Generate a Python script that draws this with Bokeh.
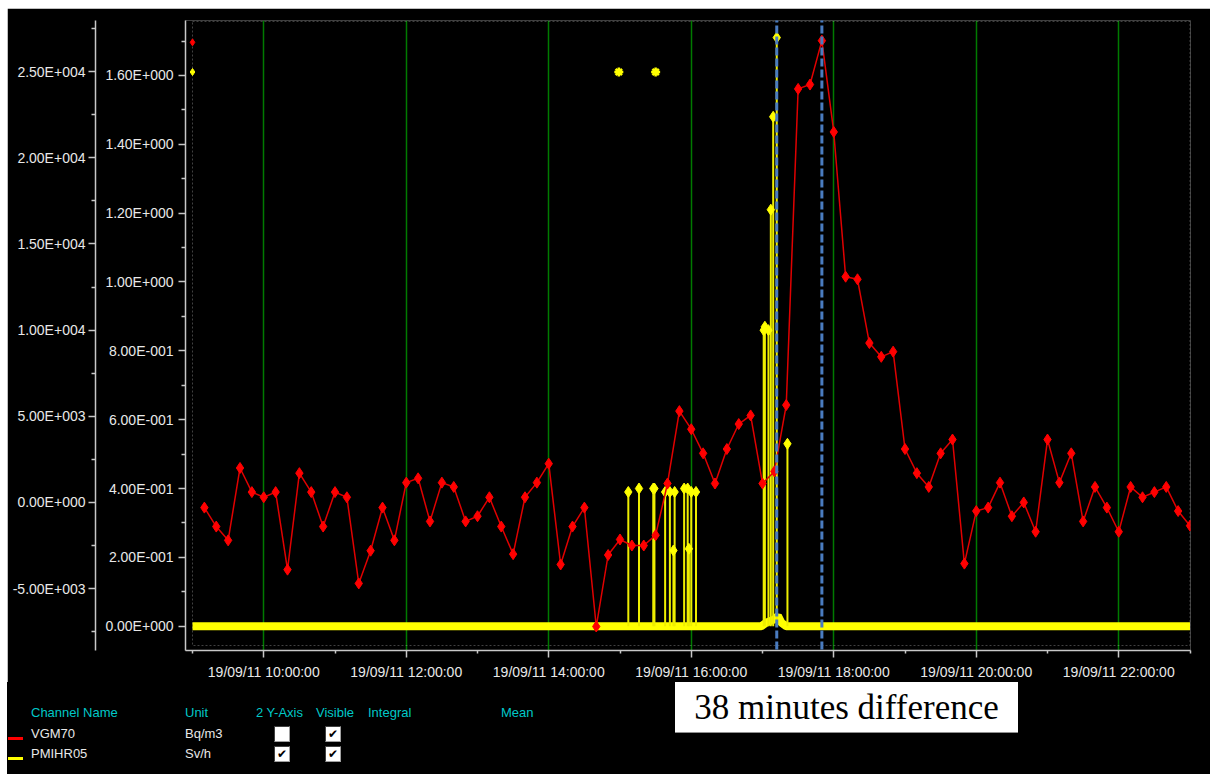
import pandas as pd
from bokeh.plotting import figure
from bokeh.models import (Range1d, LinearAxis, FixedTicker, CustomJSTickFormatter,
                          DatetimeTickFormatter, Arrow, BoxAnnotation, Spacer, Div)
from bokeh.layouts import column, row
from bokeh.embed import file_html
from bokeh.resources import INLINE

# ---------------- data ----------------
DAY = "2011-09-19"

red_name, red_unit = "VGM70", "Bq/m3"
yel_name, yel_unit = "PMIHR05", "Sv/h"

# VGM70, one reading every 10 minutes from 09:10 to 23:00 (Bq/m3)
red_first, red_step_min = "09:10", 10
red_values = [
    -300, -1400, -2200, 2000, 600, 300, 600, -3900, 1700, 600, -1400, 600,
    300, -4700, -2800, -300, -2200, 1150, 1400, -1100, 1150, 900, -1100, -800,
    300, -1400, -3000, 300, 1150, 2250, -3600, -1400, -300, -7200, -3050, -2150,
    -2500, -2500, -1900, 1100, 5300, 4250, 2850, 1100, 3100, 4550, 5050, 1100,
    1800, 5650, 24000, 24250, 26800, 21500, 13100, 12950, 9250, 8450, 8750, 3100,
    1700, 900, 2850, 3650, -3550, -500, -300, 1150, -800, 0, -1700, 3650,
    1150, 2850, -1100, 900, -300, -1700, 900, 300, 600, 900, -500, -1350,
]

# PMIHR05 (Sv/h): baseline readings and spikes
yel_base_times = ["09:00", "16:59", "17:03", "17:10", "17:13", "17:16", "17:20", "23:00"]
yel_base_values = [0.0, 0.0, 0.01, 0.02, 0.03, 0.01, 0.0, 0.0]
yel_spike_times = ["15:07", "15:16", "15:28", "15:29", "15:38", "15:42", "15:45", "15:46",
                   "15:54", "15:57", "15:58", "16:00", "16:04",
                   "17:01", "17:02", "17:05", "17:07", "17:09", "17:12", "17:21"]
yel_spike_values = [0.39, 0.40, 0.40, 0.40, 0.39, 0.39, 0.22, 0.39,
                    0.40, 0.40, 0.225, 0.39, 0.39,
                    0.86, 0.87, 0.86, 1.21, 1.48, 1.71, 0.53]
yel_flag_times = ["14:59", "15:30"]
yel_flag_values = [1.61, 1.61]
edge_time = "09:00"
red_edge_value = 26700
yel_edge_value = 1.61

peak_times = ["17:12", "17:50"]          # dashed markers, 38 minutes apart
annotation_text = "38 minutes difference"

x_major = ["10:00", "12:00", "14:00", "16:00", "18:00", "20:00", "22:00"]
x_minor = ["09:00", "11:00", "13:00", "15:00", "17:00", "19:00", "21:00", "23:00"]
sv_major = [0.0, 0.2, 0.4, 0.6, 0.8, 1.0, 1.2, 1.4, 1.6]
sv_minor = [0.1, 0.3, 0.5, 0.7, 0.9, 1.1, 1.3, 1.5, 1.7]
bq_major = [-5000, 0, 5000, 10000, 15000, 20000, 25000]
bq_minor = [-7500, -2500, 2500, 7500, 12500, 17500, 22500, 27500]

table_headers = ["Channel Name", "Unit", "2 Y-Axis", "Visible", "Integral", "Mean"]
table_names = [red_name, yel_name]
table_units = [red_unit, yel_unit]
table_colors = ["#FF0000", "#FFFF00"]
table_two_axis = [False, True]
table_visible = [True, True]

# ---------------- helpers ----------------
def ts(hm):
    return pd.Timestamp(f"{DAY} {hm}")

def ms(hm):
    return ts(hm).value // 10**6

red_times = [ts(red_first) + pd.Timedelta(minutes=red_step_min * i) for i in range(len(red_values))]

FRAME_H = 631
x_start = ts("09:00") - pd.Timedelta(minutes=5.9)
x_end = ts("23:00") + pd.Timedelta(seconds=25)
sv_lo, sv_hi = -0.0705, 1.7596
bq_lo, bq_hi = -8592, 27968
px_per_sv = FRAME_H / (sv_hi - sv_lo)

BG = "black"
p = figure(width=1203, height=674, x_axis_type="datetime",
           x_range=Range1d(x_start, x_end), y_range=Range1d(sv_lo, sv_hi),
           output_backend="svg", toolbar_location=None,
           min_border_left=178, min_border_right=20, min_border_top=12, min_border_bottom=31,
           background_fill_color=BG, border_fill_color=BG, outline_line_color=None)
p.extra_y_ranges = {"bq": Range1d(bq_lo, bq_hi)}

sci = CustomJSTickFormatter(code="""
const v = tick;
if (Math.abs(v) < 1e-12) return "0.00E+000";
let e = Math.floor(Math.log10(Math.abs(v)));
let m = (v / Math.pow(10, e)).toFixed(2);
if (Math.abs(parseFloat(m)) >= 10) { e += 1; m = (v / Math.pow(10, e)).toFixed(2); }
return m + "E" + (e < 0 ? "-" : "+") + String(Math.abs(e)).padStart(3, "0");
""")

AX = "#C8C8C8"
def style_axis(ax, minor_out=4, standoff=5):
    ax.axis_line_color = AX
    ax.axis_line_width = 1.5
    ax.major_tick_line_color = AX
    ax.minor_tick_line_color = AX
    ax.major_tick_line_width = 1.5
    ax.minor_tick_line_width = 1.5
    ax.major_tick_out = 7
    ax.major_tick_in = 0
    ax.minor_tick_out = minor_out
    ax.minor_tick_in = 0
    ax.major_label_text_color = "#E8E8E8"
    ax.major_label_text_font = "Liberation Sans"
    ax.major_label_text_font_size = "14px"
    ax.major_label_standoff = standoff

# inner axis: Sv/h
inner = p.yaxis[0]
inner.ticker = FixedTicker(ticks=sv_major, minor_ticks=sv_minor)
inner.formatter = sci
style_axis(inner)

# blank spacer axis between the two y axes (one invisible tick, no label)
gap = LinearAxis(ticker=FixedTicker(ticks=[sv_major[0]], minor_ticks=[]),
                 formatter=CustomJSTickFormatter(code="return ''"),
                 axis_line_color=None, major_tick_line_color=None, minor_tick_line_color=None,
                 major_tick_out=7, major_tick_in=0, minor_tick_out=0, minor_tick_in=0,
                 major_label_standoff=0)
p.add_layout(gap, "left")

# outer axis: Bq/m3
outer = LinearAxis(y_range_name="bq", ticker=FixedTicker(ticks=bq_major, minor_ticks=bq_minor),
                   formatter=sci)
style_axis(outer, standoff=3)
p.add_layout(outer, "left")

# x axis
xa = p.xaxis[0]
xa.ticker = FixedTicker(ticks=[ms(t) for t in x_major], minor_ticks=[ms(t) for t in x_minor])
fmt = "%d/%m/%y %H:%M:%S"
xa.formatter = DatetimeTickFormatter(hours=fmt, hourmin=fmt, minutes=fmt, minsec=fmt,
                                     seconds=fmt, days=fmt, months=fmt, years=fmt)
style_axis(xa, minor_out=3, standoff=6)

p.xgrid.grid_line_color = "#007A00"
p.xgrid.grid_line_width = 1.5
p.ygrid.visible = False

# dotted plot border
p.add_layout(BoxAnnotation(left=ms("09:00"), right=ms("23:00"),
                           bottom=sv_lo + 5 / px_per_sv, top=sv_hi - 1 / px_per_sv,
                           fill_color=None, line_color="#D8D8D8", line_width=1,
                           line_dash="2 2", level="underlay"))

YEL = "#FFFF00"
# yellow series
p.line([ts(t) for t in yel_base_times], yel_base_values, line_color=YEL, line_width=8)
p.segment(x0=[ts(t) for t in yel_spike_times], y0=0, x1=[ts(t) for t in yel_spike_times],
          y1=yel_spike_values, line_color="#EEEE00", line_width=2)
p.scatter([ts(t) for t in yel_spike_times], yel_spike_values, marker="diamond",
          size=11, color=YEL)
p.scatter([ts(t) for t in yel_flag_times], yel_flag_values, marker="asterisk",
          size=9, line_width=2.5, line_color=YEL)
p.scatter([ts(edge_time)], [yel_edge_value], marker="diamond", size=7, color=YEL)

# red series
p.line(red_times, red_values, y_range_name="bq", line_color="#E00000", line_width=1.5)
p.scatter(red_times, red_values, y_range_name="bq", marker="diamond", size=11, color="#FF0000")
p.scatter([ts(edge_time)], [red_edge_value], y_range_name="bq", marker="diamond",
          size=7, color="#FF0000")

# blue dashed markers
for t in peak_times:
    p.add_layout(Arrow(end=None, x_start=ms(t), y_start=sv_hi + 6 / px_per_sv,
                       x_end=ms(t), y_end=sv_lo - 19 / px_per_sv,
                       line_color="#4A7CC0", line_width=3, line_dash="8 3"))

# ---------------- channel table under the chart ----------------
def span(left, top, content, style):
    return (f'<span style="position:absolute;left:{left}px;top:{top}px;'
            f'white-space:nowrap;{style}">{content}</span>')

base_font = "font-family:'Liberation Sans';font-size:13px;line-height:16px;"
parts = []
head_left = [24, 178, 249, 309, 361, 494]
for hl, h in zip(head_left, table_headers):
    parts.append(span(hl, 23, h, base_font + "color:#00C8C8;"))
row_top = [44, 64]
box_left = [267, 318]
for rt, name, unit, col, two, vis in zip(row_top, table_names, table_units, table_colors,
                                         table_two_axis, table_visible):
    parts.append(span(1, rt + 11, "", f"width:15px;height:3px;background:{col};"))
    parts.append(span(24, rt, name, base_font + "color:#E8E8E8;"))
    parts.append(span(178, rt, unit, base_font + "color:#E8E8E8;"))
    for bl, flag in zip(box_left, [two, vis]):
        parts.append(span(bl, rt, "\u2714" if flag else "",
                          "width:16px;height:16px;box-sizing:border-box;background:#fff;"
                          "border:1px solid #A0A0A0;border-top-color:#404040;"
                          "border-left-color:#404040;color:#000;"
                          "font-family:'DejaVu Sans';font-size:12px;font-weight:bold;"
                          "line-height:14px;text-align:center;"))
parts.append(f'<div style="position:absolute;left:668px;top:0px;width:343px;height:51px;'
             f'background:#fff;border-bottom:1px solid #909090;color:#000;'
             f"font-family:'Liberation Serif';font-size:35px;line-height:51px;"
             f'text-align:center;white-space:nowrap;">{annotation_text}</div>')

html = ('<div style="position:relative;width:1203px;height:92px;background:#000;'
        'overflow:hidden;margin:0;padding:0;">' + "".join(parts) + "</div>")
table = Div(text=html, width=1203, height=92, styles={"background-color": "black",
                                                      "margin": "0", "padding": "0"})

layout = column(Spacer(height=8), row(Spacer(width=7), column(p, table)))
open("out.html", "w").write(file_html(layout, INLINE))
